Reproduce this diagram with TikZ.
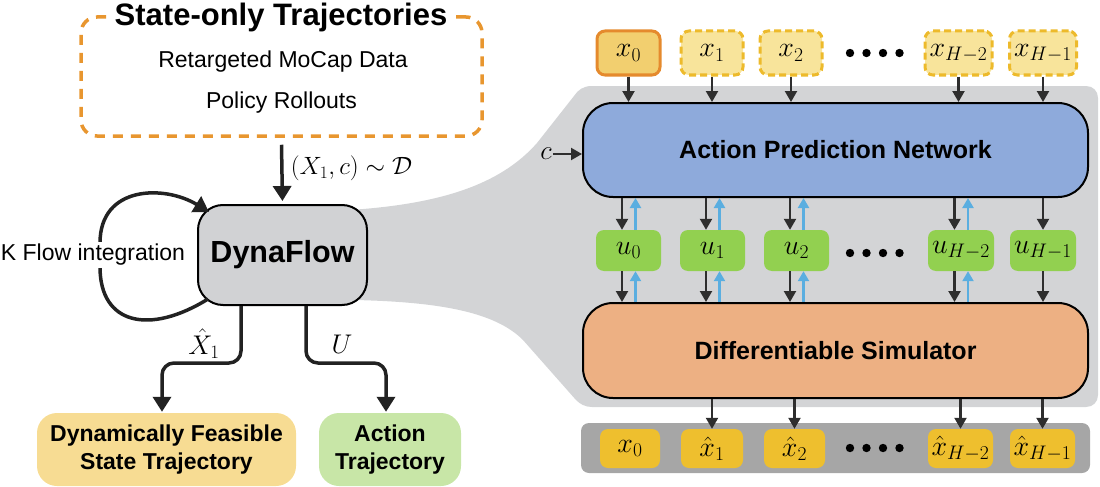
\RequirePackage{fix-cm}
\documentclass[tikz,border=0pt]{standalone}
\usepackage{amsmath}
\usepackage{graphicx}
\usepackage{fontspec}
\setmainfont{Liberation Sans}
\usetikzlibrary{arrows.meta,calc}
\newcommand{\fsz}[2]{\fontsize{#1}{#2}\selectfont}
\newcommand{\bxm}[1]{\scalebox{1.12}{$#1$}}
\definecolor{orangeD}{HTML}{E8962F}
\definecolor{panelgray}{HTML}{D3D4D6}
\definecolor{dynagray}{HTML}{D1D2D4}
\definecolor{yelout}{HTML}{F7DC93}
\definecolor{grnout}{HTML}{C8E6A7}
\definecolor{apnblue}{HTML}{8EAADB}
\definecolor{dsorange}{HTML}{EDB083}
\definecolor{ugreen}{HTML}{92D050}
\definecolor{barg}{HTML}{A6A6A6}
\definecolor{xhatc}{HTML}{EEBF2E}
\definecolor{xzfill}{HTML}{F2CF6F}
\definecolor{xzdraw}{HTML}{E58A2D}
\definecolor{xfill}{HTML}{F8E49B}
\definecolor{xdraw}{HTML}{EDBA2B}
\definecolor{arrdark}{HTML}{2E2E2E}
\definecolor{arrblack}{HTML}{222222}
\definecolor{bluearr}{HTML}{5AAEE0}
\tikzset{
  bigarr/.style={line width=3.5pt, draw=arrblack, -{Triangle[length=15pt,width=18pt]}, rounded corners=12pt},
  parr/.style={line width=2.2pt, draw=arrdark, -{Triangle[length=11pt,width=12pt]}},
  barr/.style={line width=2.2pt, draw=bluearr, -{Triangle[length=10pt,width=11pt]}},
  rowx/.style={inner sep=0pt, minimum height=44pt, rounded corners=8pt, font=\fsz{25}{30}},
  xzero/.style={rowx, fill=xzfill, draw=xzdraw, line width=3pt},
  xdash/.style={rowx, fill=xfill, draw=xdraw, line width=3pt, dash pattern=on 7pt off 4pt},
  ubox/.style={inner sep=0pt, minimum height=41pt, rounded corners=8pt, fill=ugreen, font=\fsz{25}{30}},
  hbox/.style={inner sep=0pt, minimum height=39pt, rounded corners=8pt, fill=xhatc, font=\fsz{25}{30}},
  bigbox/.style={draw=black, line width=2pt, rounded corners=30pt, inner sep=0pt, minimum width=505pt, font=\bfseries\fsz{25}{30}},
  outbox/.style={inner sep=0pt, rounded corners=20pt, minimum height=73pt, align=center, font=\bfseries\fsz{23}{28}},
  plain/.style={inner sep=1pt, font=\fsz{23}{28}},
  mlabel/.style={inner sep=1pt, font=\fsz{25}{30}},
  dotc/.style={fill=black}
}
\begin{document}
\begin{tikzpicture}[x=1pt,y=-1pt]
\useasboundingbox (0,0) rectangle (1100,487);

% gray funnel / panel background
\fill[panelgray] (340,210) -- (350,210) .. controls (440,204) and (500,185) .. (537,143) -- (574,96)
  .. controls (578,90) and (583,86) .. (592,86) -- (1086,86)
  .. controls (1093,86) and (1098,91) .. (1098,98) -- (1098,395)
  .. controls (1098,402) and (1093,407) .. (1086,407) -- (592,407)
  .. controls (585,407) and (580,404) .. (576,400) -- (523,340)
  .. controls (495,312) and (440,302) .. (355,300) -- (340,300) -- cycle;

% source box
\node[draw=orangeD, line width=3.5pt, dash pattern=on 10pt off 8pt, rounded corners=16pt,
      minimum width=401pt, minimum height=119pt, inner sep=0pt] (src) at (281.5,76.5) {};
\node[fill=white, inner xsep=6pt, inner ysep=1pt, font=\bfseries\fsz{31}{34}] (title) at (281,17) {State-only Trajectories};
\node[plain] (mocap) at (283,62) {Retargeted MoCap Data};
\node[plain] (roll) at (281.5,103) {Policy Rollouts};

% DynaFlow
\node[draw=black, fill=dynagray, line width=2pt, rounded corners=25pt, minimum width=169pt,
      minimum height=100pt, inner sep=0pt, font=\bfseries\fsz{30.5}{34}] (dyna) at (282.5,255) {DynaFlow};

\draw[bigarr, shorten >=3pt] ([yshift=-7pt]src.south) -- (dyna.north)
  node[midway, anchor=west, xshift=6pt, yshift=6pt, mlabel] (lab) {$(X_1, c) \sim \mathcal{D}$};

% self loop
\draw[bigarr] ([xshift=11pt,yshift=7pt]dyna.south west) .. controls (150,335) and (100,325) .. (100,255)
  .. controls (100,185) and (165,185) .. ([xshift=12pt,yshift=-8pt]dyna.north west);
\node[plain, fill=white, inner sep=2pt] (kflow) at (93,255) {K Flow integration};

% outputs
\node[outbox, fill=yelout, minimum width=259pt] (feas) at (166.5,449.5) {Dynamically Feasible\\State Trajectory};
\node[outbox, fill=grnout, minimum width=142pt] (act) at (390,449.5) {Action\\Trajectory};
\draw[bigarr] ([xshift=-41.5pt]dyna.south) -- ++(0,57) -| ([xshift=-4.5pt,yshift=1pt]feas.north);
\draw[bigarr] ([xshift=23.5pt]dyna.south) -- ++(0,57) -| ([xshift=-4pt,yshift=1pt]act.north);
\node[mlabel] (lx) at (204,344) {\scalebox{1.08}{$\hat{X}_1$}};
\node[mlabel] (lu) at (342,344) {\scalebox{1.08}{$U$}};

% panel boxes
\node[bigbox, fill=apnblue, minimum height=94pt] (apn) at (835.5,150) {Action Prediction Network};
\node[bigbox, fill=dsorange, minimum height=95pt] (ds) at (835.5,350.5) {Differentiable Simulator};

\node[mlabel] (c) at (546,154) {\scalebox{1.08}{$c$}};
\draw[parr] (c.east) -- (c.east -| apn.west);

% x row
\node[xzero, minimum width=63pt] (x0) at (628.5,53) {\bxm{x_0}};
\node[xdash, minimum width=62pt] (x1) at (712,53) {\bxm{x_1}};
\node[xdash, minimum width=62pt] (x2) at (791,53) {\bxm{x_2}};
\node[xdash, minimum width=67pt] (xH2) at (958.5,53) {\bxm{x_{H-2}}};
\node[xdash, minimum width=67pt] (xH1) at (1043,53) {\bxm{x_{H-1}}};
\foreach \n in {x0,x1,x2,xH2,xH1}{
  \draw[parr] (\n.south) -- (\n.south |- apn.north);
}

% u row
\node[ubox, minimum width=65pt] (u0) at (628.5,250.5) {\bxm{u_0}};
\node[ubox, minimum width=65pt] (u1) at (712.5,250.5) {\bxm{u_1}};
\node[ubox, minimum width=65pt] (u2) at (796.5,250.5) {\bxm{u_2}};
\node[ubox, minimum width=66pt] (uH2) at (961,250.5) {\bxm{u_{H-2}}};
\node[ubox, minimum width=66pt] (uH1) at (1043,250.5) {\bxm{u_{H-1}}};
\foreach \n in {u0,u1,u2,uH2}{
  \coordinate (kt) at ([xshift=-6.5pt]\n.north);
  \coordinate (bt) at ([xshift=7pt]\n.north);
  \coordinate (kb) at ([xshift=-6.5pt]\n.south);
  \coordinate (bb) at ([xshift=7pt]\n.south);
  \draw[parr] (kt |- apn.south) -- (kt);
  \draw[barr] (bt) -- (bt |- apn.south);
  \draw[parr] (kb) -- (kb |- ds.north);
  \draw[barr] (bb |- ds.north) -- (bb);
}
\draw[parr] (uH1 |- apn.south) -- (uH1.north);
\draw[parr] (uH1.south) -- (uH1 |- ds.north);

% bottom bar
\node[fill=barg, rounded corners=8pt, minimum width=509pt, minimum height=50pt, inner sep=0pt] (bar) at (835.5,448) {};
\node[hbox, minimum width=60pt] (h0) at (630,448.5) {\bxm{x_0}};
\node[hbox, minimum width=62pt] (h1) at (712,448.5) {\bxm{\hat{x}_1}};
\node[hbox, minimum width=61pt] (h2) at (794.5,448.5) {\bxm{\hat{x}_2}};
\node[hbox, minimum width=65pt] (hH2) at (960.5,448.5) {\bxm{\hat{x}_{H-2}}};
\node[hbox, minimum width=65pt] (hH1) at (1042.5,448.5) {\bxm{\hat{x}_{H-1}}};
\foreach \n in {h1,h2,hH2,hH1}{
  \draw[parr] (\n |- ds.south) -- (\n.north);
}

% ellipsis dots
\foreach \yy in {53,253,448}{
  \foreach \xx in {850,866.5,883,899.5}{
    \fill[dotc] (\xx,\yy) circle (4.2pt);
  }
}
\end{tikzpicture}
\end{document}
